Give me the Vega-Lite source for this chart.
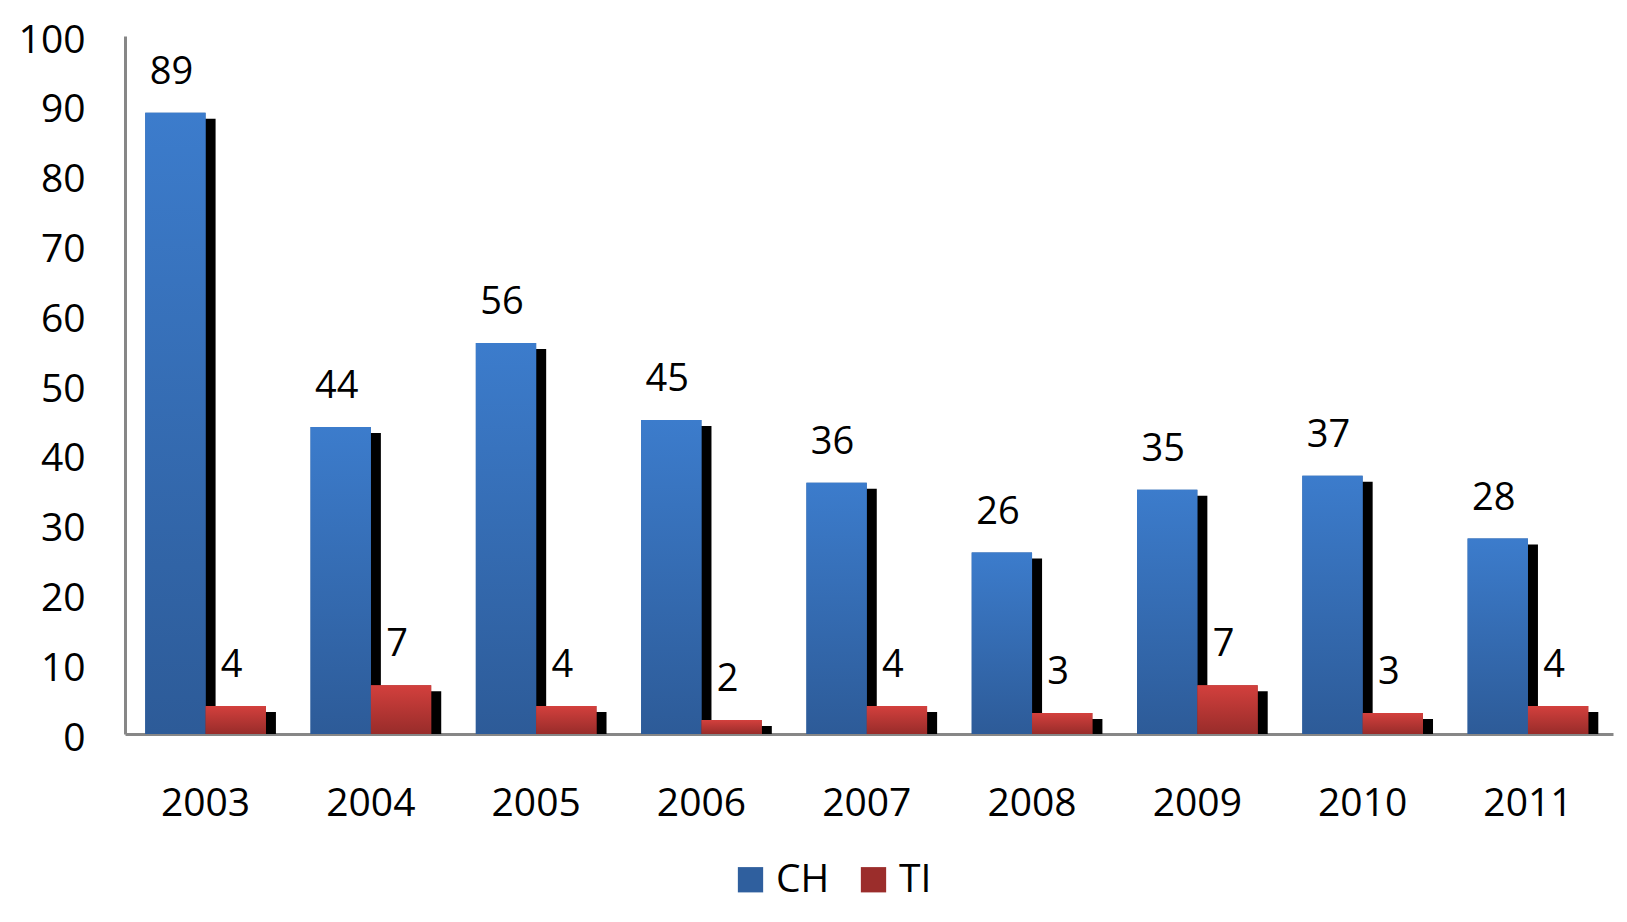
{
  "$schema": "https://vega.github.io/schema/vega-lite/v6.json",
  "width": 1488,
  "height": 698,
  "autosize": {"type": "none"},
  "padding": {"left": 125, "top": 36, "right": 14, "bottom": 188},
  "background": "white",
  "config": {
    "view": {"stroke": null},
    "font": "Open Sans",
    "axis": {"labelFont": "Open Sans", "labelColor": "black", "grid": false, "ticks": false, "tickSize": 0, "domainColor": "#878787", "domainWidth": 3, "title": null}
  },
  "data": {
    "values": [
      {"year": "2003", "series": "CH", "value": 89},
      {"year": "2003", "series": "TI", "value": 4},
      {"year": "2004", "series": "CH", "value": 44},
      {"year": "2004", "series": "TI", "value": 7},
      {"year": "2005", "series": "CH", "value": 56},
      {"year": "2005", "series": "TI", "value": 4},
      {"year": "2006", "series": "CH", "value": 45},
      {"year": "2006", "series": "TI", "value": 2},
      {"year": "2007", "series": "CH", "value": 36},
      {"year": "2007", "series": "TI", "value": 4},
      {"year": "2008", "series": "CH", "value": 26},
      {"year": "2008", "series": "TI", "value": 3},
      {"year": "2009", "series": "CH", "value": 35},
      {"year": "2009", "series": "TI", "value": 7},
      {"year": "2010", "series": "CH", "value": 37},
      {"year": "2010", "series": "TI", "value": 3},
      {"year": "2011", "series": "CH", "value": 28},
      {"year": "2011", "series": "TI", "value": 4}
    ]
  },
  "encoding": {
    "x": {"field": "year", "type": "nominal", "scale": {"paddingInner": 0.27, "paddingOuter": 0.136, "align": 0.45},
      "axis": {"labelAngle": 0, "labelFontSize": 39, "labelPadding": 50, "orient": "bottom"}},
    "y": {"field": "value", "type": "quantitative", "scale": {"domain": [0, 100], "nice": false},
      "axis": {"values": [0,10,20,30,40,50,60,70,80,90,100], "labelFontSize": 39, "labelPadding": 40, "labelOffset": 4}}
  },
  "layer": [
    {
      "mark": {"type": "bar", "color": "black", "yOffset": 6, "clip": true},
      "encoding": {
        "xOffset": {"field": "series", "type": "nominal", "scale": {"domain": ["CH", "TI"], "paddingInner": 0, "paddingOuter": 0, "range": [10, 130.7]}}
      }
    },
    {
      "layer": [
        {
          "mark": {"type": "bar"},
          "encoding": {
            "color": {"field": "series", "type": "nominal",
              "scale": {"domain": ["CH", "TI"], "range": ["#2F5F9E", "#9B2D2B"]},
              "legend": {"orient": "none", "legendX": 606, "legendY": 824, "direction": "horizontal", "title": null,
                "symbolType": "square", "symbolSize": 640, "symbolStrokeWidth": 0, "labelFontSize": 39, "labelFont": "Open Sans", "labelColor": "black",
                "labelOffset": 6, "columnPadding": 24, "padding": 0}}
          }
        },
        {
          "transform": [{"filter": "datum.series === 'CH'"}],
          "mark": {"type": "bar", "color": {"gradient": "linear", "x1": 0, "y1": 0, "x2": 0, "y2": 1,
            "stops": [{"offset": 0, "color": "#3C7CCC"}, {"offset": 1, "color": "#2D5B98"}]}}
        },
        {
          "transform": [{"filter": "datum.series === 'TI'"}],
          "mark": {"type": "bar", "color": {"gradient": "linear", "x1": 0, "y1": 0, "x2": 0, "y2": 1,
            "stops": [{"offset": 0, "color": "#D3403D"}, {"offset": 1, "color": "#982C2A"}]}}
        },
        {
          "mark": {"type": "text", "fontSize": 38, "font": "Open Sans", "color": "black", "baseline": "alphabetic", "dy": -29, "dx": -4},
          "encoding": {"text": {"field": "value", "type": "quantitative"}}
        }
      ],
      "encoding": {
        "xOffset": {"field": "series", "type": "nominal", "scale": {"type": "band", "domain": ["CH", "TI"], "paddingInner": 0, "paddingOuter": 0}}
      }
    }
  ],
  "resolve": {"scale": {"xOffset": "independent"}}
}
